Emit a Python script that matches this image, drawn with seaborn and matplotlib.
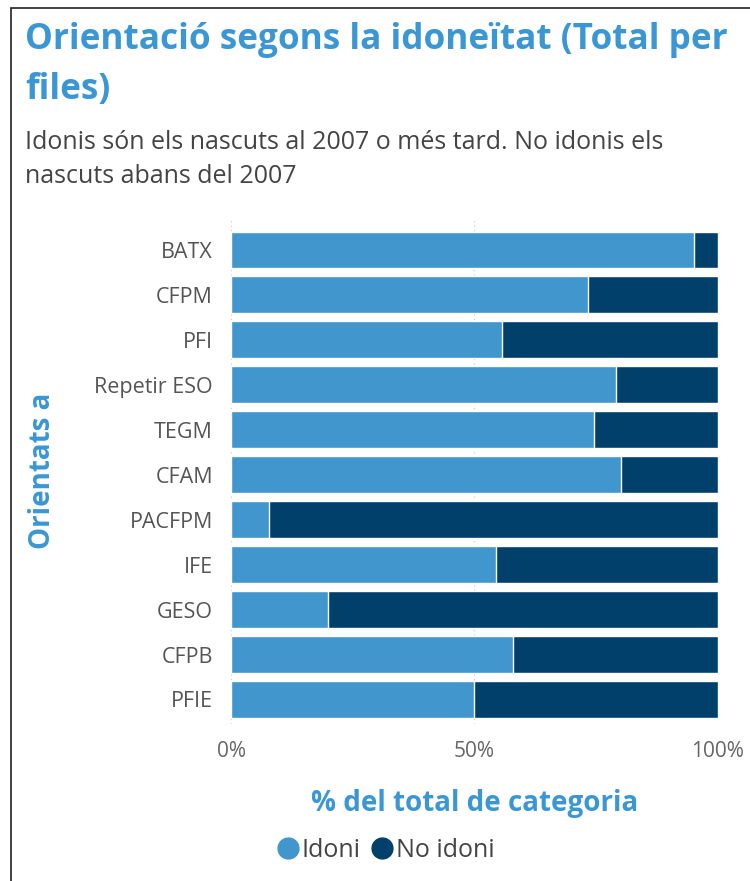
import pandas as pd
import matplotlib.pyplot as plt
import seaborn as sns
from matplotlib.patches import Rectangle
from matplotlib.lines import Line2D

categories = ["BATX", "CFPM", "PFI", "Repetir ESO", "TEGM", "CFAM",
              "PACFPM", "IFE", "GESO", "CFPB", "PFIE"]
idoni = [95.1, 73.3, 55.7, 79.0, 74.6, 80.2, 7.9, 54.5, 19.9, 57.9, 50.0]
no_idoni = [4.9, 26.7, 44.3, 21.0, 25.4, 19.8, 92.1, 45.5, 80.1, 42.1, 50.0]
x_ticks = [0, 50, 100]
x_ticklabels = ["0%", "50%", "100%"]

light = "#4196CD"
dark = "#01406A"
blue_text = "#3A97D3"

df = pd.DataFrame({"cat": categories, "idoni": idoni, "no_idoni": no_idoni})
df["total"] = df["idoni"] + df["no_idoni"]

sns.set_style("white")
plt.rcParams['font.family'] = ['Open Sans', 'DejaVu Sans']

fig = plt.figure(figsize=(7.5, 8.81), dpi=100)
ax = fig.add_axes([0.308, 0.178, 0.649, 0.575])

# stacked: full dark bar underneath, light Idoni share on top
sns.barplot(data=df, y="cat", x="total", color=dark, orient="h",
            width=0.82, ax=ax, saturation=1)
sns.barplot(data=df, y="cat", x="idoni", color=light, orient="h",
            width=0.82, ax=ax, saturation=1)

ax.set_xlim(0, 100)
ax.set_ylim(len(categories) - 0.45, -0.72)
for xv in x_ticks:
    ax.axvline(xv, color="#c8c8c8", lw=0.8, ls=(0, (1, 3)), zorder=0)
ax.set_xticks(x_ticks)
ax.set_xticklabels(x_ticklabels, color="#666666", fontsize=15)
ax.tick_params(axis="y", labelsize=15.5, labelcolor="#555555", length=0, pad=13)
ax.tick_params(axis="x", length=0, pad=12)
for s in ax.spines.values():
    s.set_visible(False)
ax.set_ylabel("Orientats a", color=blue_text, fontsize=20, fontweight="bold")
ax.set_xlabel("% del total de categoria", color=blue_text, fontsize=20,
              fontweight="bold")
ax.yaxis.set_label_coords(-0.358, 0.5)
ax.xaxis.set_label_coords(0.5, -0.127)

fig.text(0.033, 0.975, "Orientació segons la idoneïtat (Total per\nfiles)",
         color=blue_text, fontsize=25.3, fontweight="bold", va="top",
         linespacing=1.5)
fig.text(0.033, 0.852, "Idonis són els nascuts al 2007 o més tard. No idonis els\nnascuts abans del 2007",
         color="#444444", fontsize=18, va="top", linespacing=1.47)

handles = [Line2D([], [], marker="o", ls="", color=light, markersize=15),
           Line2D([], [], marker="o", ls="", color=dark, markersize=15)]
fig.legend(handles, ["Idoni", "No idoni"], loc="center", bbox_to_anchor=(0.505, 0.035),
           ncol=2, frameon=False, fontsize=18, handletextpad=-0.45, columnspacing=-0.15,
           labelcolor="#444444")

fig.patches.append(Rectangle((0.015, -0.01), 1.2, 1.001, transform=fig.transFigure,
                             fill=False, edgecolor="#222222", lw=1.2))

fig.savefig("out.png", dpi=100)
